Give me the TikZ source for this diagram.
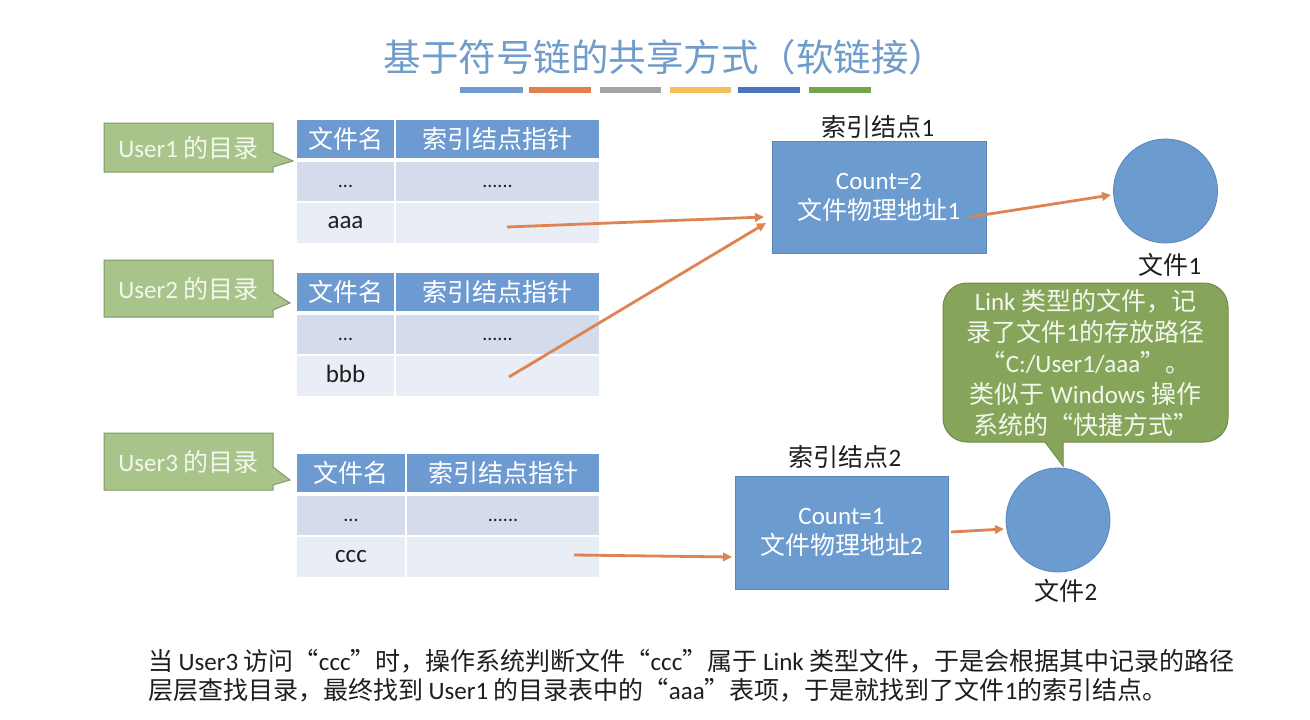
\documentclass[tikz,border=0pt]{standalone}
\usepackage{fontspec}
\setmainfont{Carlito}
\newfontfamily\cjkfont{Noto Sans CJK SC}
\newcommand\zh[1]{{\cjkfont #1}}
\usetikzlibrary{arrows.meta}
\definecolor{hdr}{HTML}{6D9BD1}
\definecolor{rowA}{HTML}{D4DCEB}
\definecolor{rowB}{HTML}{E9EDF5}
\definecolor{nodefill}{HTML}{6C9BCF}
\definecolor{nodeborder}{HTML}{5A86B8}
\definecolor{arrowc}{HTML}{DD8452}
\definecolor{userfill}{HTML}{A9C48B}
\definecolor{userborder}{HTML}{7F9A63}
\definecolor{usertext}{HTML}{F3F7ED}
\definecolor{callfill}{HTML}{86A55A}
\definecolor{callborder}{HTML}{6E8C48}
\definecolor{titlec}{HTML}{6F9CCB}
\definecolor{txt}{HTML}{1E1E1E}
\definecolor{barA}{HTML}{6E9CD0}
\definecolor{barB}{HTML}{E07F4F}
\definecolor{barC}{HTML}{A5A5A5}
\definecolor{barD}{HTML}{F2C15C}
\definecolor{barE}{HTML}{4A73C0}
\definecolor{barF}{HTML}{72A44E}
\newcommand\dotsfont{\fontsize{20}{24}\selectfont}
\newcommand\dirtable[4]{%
  \pgfmathsetmacro\tcA{(297+#3-1)/2}%
  \pgfmathsetmacro\twA{#3-1-297}%
  \pgfmathsetmacro\tcB{(#3+1+599)/2}%
  \pgfmathsetmacro\twB{599-#3-1}%
  \pgfmathsetmacro\tyH{#2+19}%
  \pgfmathsetmacro\tyA{#2+42+19.5}%
  \pgfmathsetmacro\tyB{#2+83+20}%
  \node[hdrcell,minimum width=\twA pt] (#1ha) at (\tcA,\tyH) {\zh{文件名}};
  \node[hdrcell,minimum width=\twB pt] (#1hb) at (\tcB,\tyH) {\zh{索引结点指针}};
  \node[cellA,minimum width=\twA pt] (#1aa) at (\tcA,\tyA) {\vphantom{Ag}\dotsfont ...};
  \node[cellA,minimum width=\twB pt] (#1ab) at (\tcB,\tyA) {\vphantom{Ag}\dotsfont ......};
  \node[cellB,minimum width=\twA pt] (#1ba) at (\tcA,\tyB) {\vphantom{Ag}#4};
  \node[cellB,minimum width=\twB pt] (#1bb) at (\tcB,\tyB) {};
}
\begin{document}
\begin{tikzpicture}[x=1pt,y=-1pt,
  every node/.style={font=\fontsize{25}{30}\selectfont, inner sep=0pt, outer sep=0pt},
  hdrcell/.style={fill=hdr, text=white, minimum height=38pt},
  cellA/.style={fill=rowA, text=txt, minimum height=39pt},
  cellB/.style={fill=rowB, text=txt, minimum height=40pt},
  inode/.style={rectangle, fill=nodefill, draw=nodeborder, line width=0.8pt, text=white,
    minimum width=214pt, minimum height=112pt, align=center},
  fnode/.style={circle, fill=nodefill, draw=nodeborder, line width=0.8pt, minimum size=104pt},
  lbl/.style={text=txt},
  arr/.style={draw=arrowc, line width=2.8pt, -{Triangle[length=9pt,width=8.5pt]}},
  ulab/.style={fill=userfill, draw=userborder, line width=1pt},
  utext/.style={text=usertext},
]
\useasboundingbox (0,0) rectangle (1310,720);
\fill[white] (0,0) rectangle (1310,720);

% title
\node[font=\cjkfont\fontsize{37.5}{42}\selectfont, text=titlec] (title) at (665,57) {基于符号链的共享方式（软链接）};
\fill[barA] (460,87) rectangle (523,93);
\fill[barB] (529,87) rectangle (591,93);
\fill[barC] (600,87) rectangle (661,93);
\fill[barD] (670,87) rectangle (731,93);
\fill[barE] (738,87) rectangle (800,93);
\fill[barF] (809,87) rectangle (871,93);

% user labels
\draw[ulab] (104,123) -- (273,123) -- (273,152) -- (293,161) -- (273,167) -- (273,172) -- (104,172) -- cycle;
\node[utext] (u1) at (188.5,147.5) {User1 \zh{的目录}};
\draw[ulab] (104,260) -- (273,260) -- (273,292) -- (290,303) -- (273,310) -- (273,317) -- (104,317) -- cycle;
\node[utext] (u2) at (188.5,288.5) {User2 \zh{的目录}};
\draw[ulab] (104,433) -- (273,433) -- (273,467) -- (290,480) -- (273,485) -- (273,490) -- (104,490) -- cycle;
\node[utext] (u3) at (188.5,461.5) {User3 \zh{的目录}};

% tables
\dirtable{t1}{120}{395}{aaa}
\dirtable{t2}{273}{395}{bbb}
\dirtable{t3}{454}{406}{ccc}

% index nodes and files
\node[inode] (in1) at (879,197) {Count=2\\\zh{文件物理地址}1};
\node[lbl] (in1l) at (878,127) {\zh{索引结点}1};
\node[fnode] (f1) at (1165.5,191) {};
\node[lbl] (f1l) at (1170,265) {\zh{文件}1};

\node[inode, minimum width=213pt, minimum height=113pt] (in2) at (841.5,532.5) {Count=1\\\zh{文件物理地址}2};
\node[lbl] (in2l) at (845,457) {\zh{索引结点}2};
\node[fnode] (f2) at (1058,520) {};
\node[lbl] (f2l) at (1066,591) {\zh{文件}2};

% callout
\node[rectangle, rounded corners=24pt, fill=callfill, draw=callborder, line width=1pt,
  minimum width=285pt, minimum height=159pt, text=usertext, align=center,
  font=\fontsize{25}{31}\selectfont] (call) at (1085.5,362.5)
  {Link \zh{类型的文件，记}\\\zh{录了文件}1\zh{的存放路径}\\\zh{“}C:/User1/aaa\zh{”。}\\\zh{类似于} Windows \zh{操作}\\\zh{系统的“快捷方式”}};
\fill[callfill] (1044.5,438) -- (1045,442) -- (1063,466) -- (1063,438) -- cycle;
\draw[callborder, line width=1pt] (1045,442) -- (1063,466) -- (1063,442);

% arrows
\coordinate (a1s) at (507,227);
\coordinate (a1e) at (764,217);
\coordinate (a2s) at (509,377);
\coordinate (a2e) at (766,223);
\coordinate (a3s) at (970,217);
\coordinate (a3e) at (1111,195);
\coordinate (a4s) at (574,555);
\coordinate (a4e) at (732,557);
\coordinate (a5s) at (951,532);
\coordinate (a5e) at (1004,529);
\draw[arr] (a1s) -- (a1e);
\draw[arr] (a2s) -- (a2e);
\draw[arr] (a3s) -- (a3e);
\draw[arr] (a4s) -- (a4e);
\draw[arr] (a5s) -- (a5e);

% bottom text
\node[anchor=west, text=txt, font=\fontsize{25}{29}\selectfont] (b1) at (148,661)
  {\zh{当} User3 \zh{访问“}ccc\zh{”时，操作系统判断文件“}ccc\zh{”属于} Link \zh{类型文件，于是会根据其中记录的路径}};
\node[anchor=west, text=txt, font=\fontsize{25}{29}\selectfont] (b2) at (148,690)
  {\zh{层层查找目录，最终找到} User1 \zh{的目录表中的“}aaa\zh{”表项，于是就找到了文件}1\zh{的索引结点。}};
\end{tikzpicture}
\end{document}
